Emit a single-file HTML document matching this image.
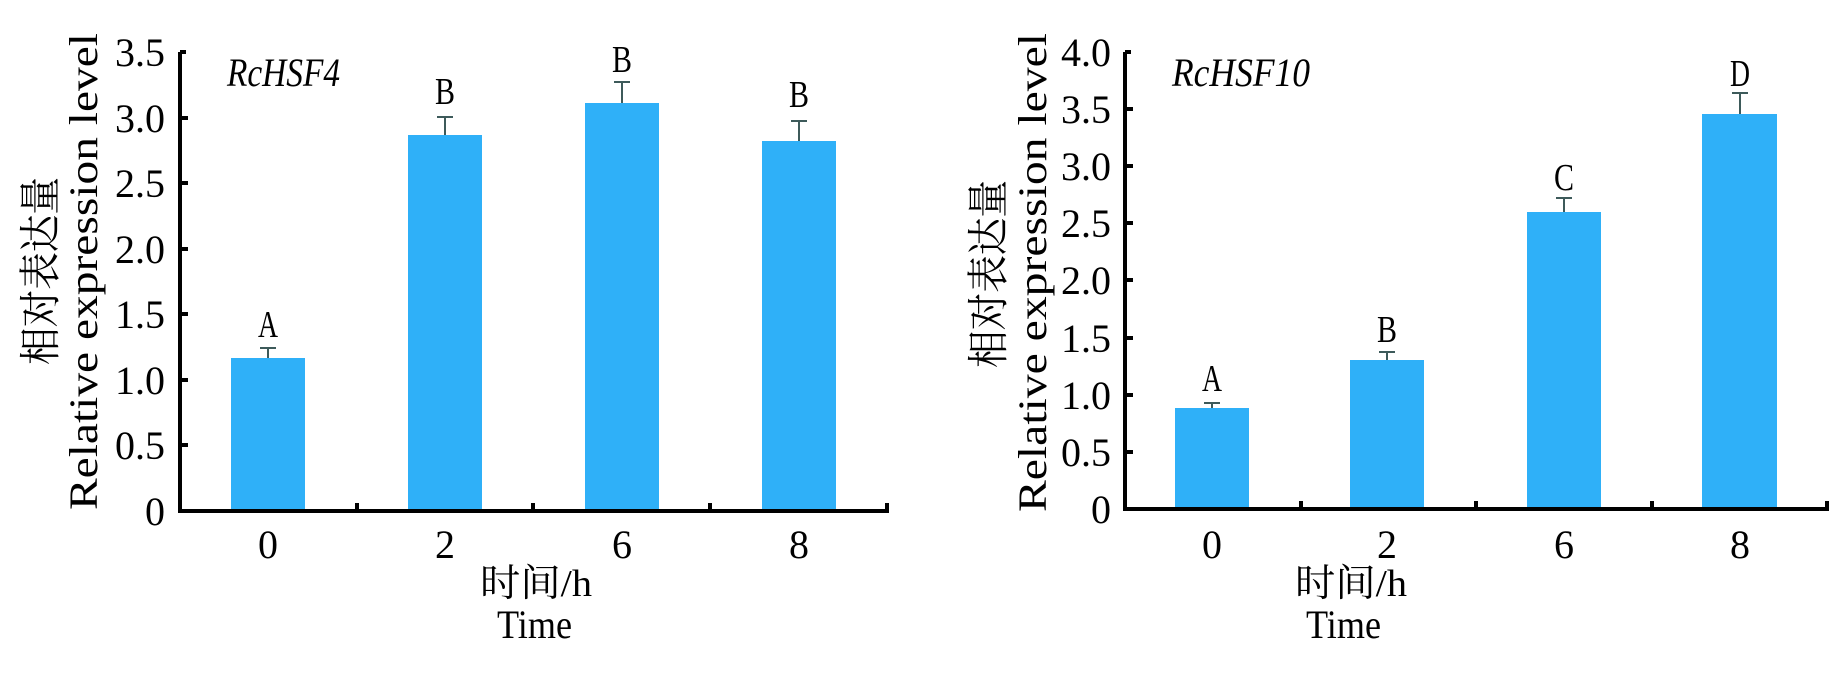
<!DOCTYPE html>
<html><head><meta charset="utf-8"><style>html,body{margin:0;padding:0;background:#fff}svg{display:block}</style></head>
<body>
<svg width="1848" height="673" xmlns="http://www.w3.org/2000/svg" font-family="'Liberation Serif','Noto Serif CJK SC',serif" fill="#000">
<!-- LEFT CHART -->
<g>
<g fill="#2fb0f8">
<rect x="231" y="358" width="74" height="153"/>
<rect x="408" y="135" width="74" height="376"/>
<rect x="585" y="103" width="74" height="408"/>
<rect x="762" y="141" width="74" height="370"/>
</g>
<g stroke="#3d5a5a" stroke-width="2">
<line x1="268" y1="348" x2="268" y2="358"/><line x1="260" y1="348" x2="276" y2="348"/>
<line x1="445" y1="117" x2="445" y2="135"/><line x1="437" y1="117" x2="453" y2="117"/>
<line x1="622" y1="82" x2="622" y2="103"/><line x1="614" y1="82" x2="630" y2="82"/>
<line x1="799" y1="121" x2="799" y2="141"/><line x1="791" y1="121" x2="807" y2="121"/>
</g>
<g font-size="38" text-anchor="middle">
<text x="268" y="337" textLength="20" lengthAdjust="spacingAndGlyphs">A</text>
<text x="445" y="104" textLength="20" lengthAdjust="spacingAndGlyphs">B</text>
<text x="622" y="72" textLength="20" lengthAdjust="spacingAndGlyphs">B</text>
<text x="799" y="107" textLength="20" lengthAdjust="spacingAndGlyphs">B</text>
</g>
<path d="M180 52 V511 H887 V503 M180 52 H186 M180 118 H188 M180 183 H188 M180 249 H188 M180 314 H188 M180 380 H188 M180 445 H188 M357 511 V503 M533 511 V503 M710 511 V503" stroke="#000" stroke-width="4" fill="none"/>
<g font-size="40" text-anchor="end">
<text x="165" y="66">3.5</text><text x="165" y="132">3.0</text><text x="165" y="197">2.5</text>
<text x="165" y="263">2.0</text><text x="165" y="328">1.5</text><text x="165" y="394">1.0</text>
<text x="165" y="459">0.5</text><text x="165" y="525">0</text>
</g>
<text x="227" y="86" font-size="40" font-style="italic" textLength="113" lengthAdjust="spacingAndGlyphs">RcHSF4</text>
<g font-size="40" text-anchor="middle">
<text x="268" y="558">0</text><text x="445" y="558">2</text><text x="622" y="558">6</text><text x="799" y="558">8</text>
</g>
<text x="480" y="596" font-size="38" textLength="112" lengthAdjust="spacingAndGlyphs">时间/h</text>
<text x="497" y="638" font-size="40" textLength="75" lengthAdjust="spacingAndGlyphs">Time</text>
<text transform="translate(97,510) rotate(-90)" font-size="40" textLength="477" lengthAdjust="spacingAndGlyphs">Relative expression level</text>
<text transform="translate(55,365) rotate(-90)" font-size="42" textLength="188" lengthAdjust="spacingAndGlyphs">相对表达量</text>
</g>
<!-- RIGHT CHART -->
<g>
<g fill="#2fb0f8">
<rect x="1175" y="408" width="74" height="101"/>
<rect x="1350" y="360" width="74" height="149"/>
<rect x="1527" y="212" width="74" height="297"/>
<rect x="1702" y="114" width="75" height="395"/>
</g>
<g stroke="#3d5a5a" stroke-width="2">
<line x1="1212" y1="403" x2="1212" y2="408"/><line x1="1204" y1="403" x2="1220" y2="403"/>
<line x1="1387" y1="352" x2="1387" y2="360"/><line x1="1379" y1="352" x2="1395" y2="352"/>
<line x1="1564" y1="198" x2="1564" y2="212"/><line x1="1556" y1="198" x2="1572" y2="198"/>
<line x1="1740" y1="93" x2="1740" y2="114"/><line x1="1732" y1="93" x2="1748" y2="93"/>
</g>
<g font-size="38" text-anchor="middle">
<text x="1212" y="391" textLength="20" lengthAdjust="spacingAndGlyphs">A</text>
<text x="1387" y="342" textLength="20" lengthAdjust="spacingAndGlyphs">B</text>
<text x="1564" y="190" textLength="20" lengthAdjust="spacingAndGlyphs">C</text>
<text x="1740" y="86" textLength="20" lengthAdjust="spacingAndGlyphs">D</text>
</g>
<path d="M1125 52 V509 H1827 V501 M1125 52 H1131 M1125 109 H1133 M1125 166 H1133 M1125 223 H1133 M1125 280 H1133 M1125 338 H1133 M1125 395 H1133 M1125 452 H1133 M1301 509 V501 M1476 509 V501 M1652 509 V501" stroke="#000" stroke-width="4" fill="none"/>
<g font-size="40" text-anchor="end">
<text x="1111" y="66">4.0</text><text x="1111" y="123">3.5</text><text x="1111" y="180">3.0</text>
<text x="1111" y="237">2.5</text><text x="1111" y="294">2.0</text><text x="1111" y="352">1.5</text>
<text x="1111" y="409">1.0</text><text x="1111" y="466">0.5</text><text x="1111" y="523">0</text>
</g>
<text x="1172" y="86" font-size="40" font-style="italic" textLength="138" lengthAdjust="spacingAndGlyphs">RcHSF10</text>
<g font-size="40" text-anchor="middle">
<text x="1212" y="558">0</text><text x="1387" y="558">2</text><text x="1564" y="558">6</text><text x="1740" y="558">8</text>
</g>
<text x="1295" y="596" font-size="38" textLength="112" lengthAdjust="spacingAndGlyphs">时间/h</text>
<text x="1306" y="638" font-size="40" textLength="75" lengthAdjust="spacingAndGlyphs">Time</text>
<text transform="translate(1046,512) rotate(-90)" font-size="40" textLength="479" lengthAdjust="spacingAndGlyphs">Relative expression level</text>
<text transform="translate(1003,368) rotate(-90)" font-size="42" textLength="188" lengthAdjust="spacingAndGlyphs">相对表达量</text>
</g>
</svg>
</body></html>
